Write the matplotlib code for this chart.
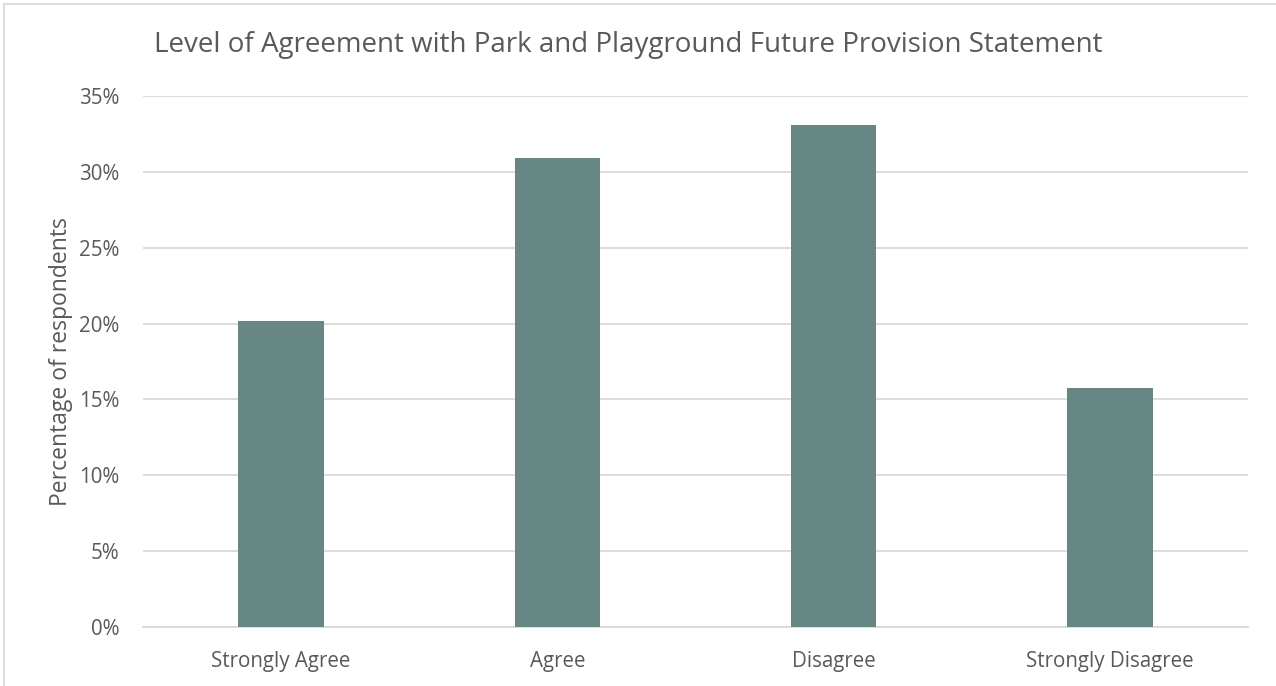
import matplotlib.pyplot as plt
from matplotlib.ticker import PercentFormatter, MultipleLocator
from matplotlib.patches import Rectangle

categories = ["Strongly Agree", "Agree", "Disagree", "Strongly Disagree"]
percentages = [20.2, 30.9, 33.1, 15.75]

title = "Level of Agreement with Park and Playground Future Provision Statement"
y_label = "Percentage of respondents"

bar_color = "#678784"
text_color = "#595959"
grid_color = "#d9d9d9"

plt.rcParams["font.family"] = ["Open Sans", "DejaVu Sans"]

fig = plt.figure(figsize=(12.76, 6.86), dpi=100)
ax = fig.add_axes([143 / 1276, 1 - 627 / 686, (1248 - 143) / 1276, (627 - 96) / 686])

x = range(len(categories))
ax.bar(x, percentages, width=0.31, color=bar_color, zorder=3)

ax.set_xlim(-0.5, len(categories) - 0.5)
ax.set_ylim(0, 35)
ax.yaxis.set_major_locator(MultipleLocator(5))
ax.yaxis.set_major_formatter(PercentFormatter(decimals=0))
ax.set_xticks(list(x))
ax.set_xticklabels(categories)

ax.grid(axis="y", color=grid_color, linewidth=1.3, zorder=0)
for side in ["top", "right", "left"]:
    ax.spines[side].set_visible(False)
ax.spines["bottom"].set_color(grid_color)
ax.spines["bottom"].set_linewidth(1.3)
ax.tick_params(length=0, labelsize=14.8, labelcolor=text_color)
ax.tick_params(axis="x", pad=17)
ax.tick_params(axis="y", pad=17)

ax.set_ylabel(y_label, fontsize=16.5, color=text_color, labelpad=4)
fig.text(628 / 1276, 1 - 45 / 686, title, fontsize=20, color=text_color,
         ha="center", va="center")

# thin frame around the chart area
fig.patches.append(Rectangle((4 / 1276, -0.01), 1.1, 1 - 4 / 686 + 0.01,
                             transform=fig.transFigure, fill=False,
                             edgecolor=grid_color, linewidth=1.3))

fig.savefig("out.png", dpi=100)
